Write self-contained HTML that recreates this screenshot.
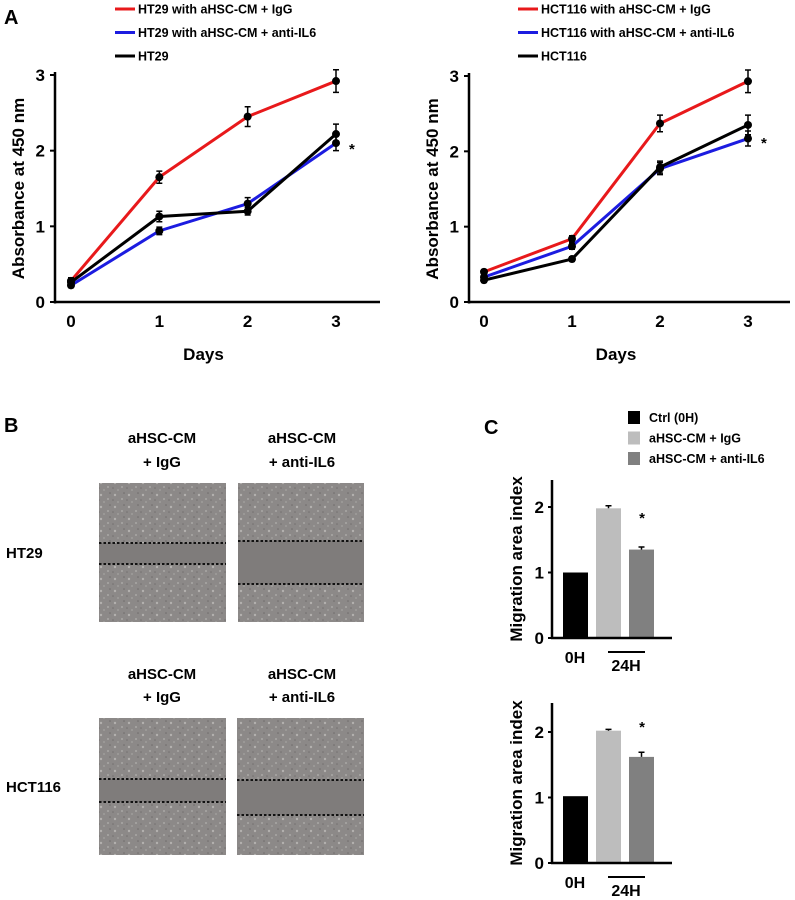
<!DOCTYPE html>
<html><head><meta charset="utf-8"><style>
body{margin:0;background:#fff}
svg{display:block;font-family:"Liberation Sans",Arial,sans-serif;font-weight:bold}
</style></head><body>
<svg id="fig" width="795" height="900" viewBox="0 0 795 900" xmlns="http://www.w3.org/2000/svg">
<defs>
<pattern id="cells" width="14" height="12" patternUnits="userSpaceOnUse">
<rect width="14" height="12" fill="#8c8988"/>
<circle cx="3" cy="3" r="1.2" fill="#b3b0ae"/><circle cx="10" cy="7" r="1" fill="#aaa7a5"/>
<circle cx="6" cy="10" r="0.9" fill="#a5a2a0"/><circle cx="12" cy="1" r="0.8" fill="#6f6c6b"/>
<circle cx="1" cy="8" r="0.8" fill="#737070"/>
</pattern>
</defs>
<g id="static"></g>
</svg>
<script>
const days=[0,1,2,3];
const ht29Igg=[0.28,1.65,2.45,2.92];
const ht29Anti=[0.22,0.94,1.30,2.10];
const ht29Ctrl=[0.26,1.13,1.20,2.22];
const ht29IggErr=[0.04,0.08,0.13,0.15];
const ht29AntiErr=[0.03,0.05,0.08,0.1];
const ht29CtrlErr=[0.03,0.07,0.05,0.13];
const hctIgg=[0.40,0.84,2.37,2.93];
const hctAnti=[0.33,0.74,1.77,2.17];
const hctCtrl=[0.29,0.57,1.79,2.35];
const hctIggErr=[0.03,0.04,0.11,0.15];
const hctAntiErr=[0.03,0.04,0.08,0.1];
const hctCtrlErr=[0.03,0.03,0.08,0.13];
const yTicks=[0,1,2,3];
const barCats=["Ctrl (0H)","aHSC-CM + IgG","aHSC-CM + anti-IL6"];
const migHT29=[1.00,1.98,1.35];
const migHT29Err=[0,0.04,0.04];
const migHCT=[1.02,2.02,1.62];
const migHCTErr=[0,0.02,0.07];
const barTicks=[0,1,2];

const NS="http://www.w3.org/2000/svg";
const svg=document.getElementById('fig');
function mk(tag,attrs,parent,text){const e=document.createElementNS(NS,tag);for(const k in attrs)e.setAttribute(k,attrs[k]);if(text!==undefined)e.textContent=text;(parent||svg).appendChild(e);return e;}

function lineChart(name,ox,x0,x3,xEnd,y0,y3,series,legendX,legendLabels,starY){
  const g=mk('g',{});
  
  
  const X=d=>x0+(x3-x0)*d/3, Y=v=>y0+(y3-y0)*v/3;
  // legend
  const cols=['#e8191b','#1c1ce0','#000'];
  legendLabels.forEach((t,i)=>{
    const yy=9+i*23.5;
    const l=mk('line',{x1:legendX,x2:legendX+20,y1:yy,y2:yy,stroke:cols[i],'stroke-width':3},g);
    
    
    const tx=mk('text',{x:legendX+23,y:yy+4.5,'font-size':12.5},g,t);
    
    
  });
  // axes
  const ya=mk('line',{x1:ox,x2:ox,y1:y3-3,y2:y0+1.5,stroke:'#000','stroke-width':2.5},g);
  
  
  const xa=mk('line',{x1:ox-1,x2:xEnd,y1:y0,y2:y0,stroke:'#000','stroke-width':2.5},g);
  
  
  yTicks.forEach(v=>{
    mk('line',{x1:ox-5,x2:ox,y1:Y(v),y2:Y(v),stroke:'#000','stroke-width':2},g);
    const t=mk('text',{x:ox-10,y:Y(v)+6,'font-size':17,'text-anchor':'end'},g,String(v));
    
    
  });
  days.forEach(d=>{
    const t=mk('text',{x:X(d),y:y0+25,'font-size':17,'text-anchor':'middle'},g,String(d));
    
    
  });
  const xt=mk('text',{x:(x0+x3)/2,y:y0+58,'font-size':17,'text-anchor':'middle'},g,'Days');
  
  
  const cy=(y0+y3)/2;
  const yt=mk('text',{x:0,y:0,'font-size':17,'text-anchor':'middle',transform:`translate(${ox-31},${cy}) rotate(-90)`},g,'Absorbance at 450 nm');
  
  
  series.forEach((s,i)=>{
    const p=mk('polyline',{points:days.map(d=>X(d)+','+Y(s.v[d])).join(' '),fill:'none',stroke:cols[i],'stroke-width':3,'stroke-linejoin':'round'},g);
    
    
    days.forEach(d=>{
      const x=X(d),y=Y(s.v[d]),e=(y0-y3)/3*s.e[d];
      mk('path',{d:`M${x},${y-e}V${y+e}M${x-3},${y-e}H${x+3}M${x-3},${y+e}H${x+3}`,stroke:'#000','stroke-width':1.5,fill:'none'},g);
      const c=mk('circle',{cx:x,cy:y,r:4,fill:'#000'},g);
      
      
    });
  });
  const st=mk('text',{x:X(3)+13,y:starY,'font-size':15},g,'*');
  
  
}
lineChart('ht29-proliferation-chart',55,71,336,380,302,75,
 [{v:ht29Igg,e:ht29IggErr},{v:ht29Anti,e:ht29AntiErr},{v:ht29Ctrl,e:ht29CtrlErr}],
 115,['HT29 with aHSC-CM + IgG','HT29 with aHSC-CM + anti-IL6','HT29'],154);
lineChart('hct116-proliferation-chart',469,484,748,790,302,76,
 [{v:hctIgg,e:hctIggErr},{v:hctAnti,e:hctAntiErr},{v:hctCtrl,e:hctCtrlErr}],
 518,['HCT116 with aHSC-CM + IgG','HCT116 with aHSC-CM + anti-IL6','HCT116'],148);

function label(x,y,size,t,name,anchor){const e=mk('text',{x:x,y:y,'font-size':size,'text-anchor':anchor||'start'},svg,t);return e;}
label(4,24,20,'A','panel-label-a');
label(4,432,20,'B','panel-label-b');
label(484,434,20,'C','panel-label-c');

// Panel B images
function wound(x,y,w,h,l1,l2,name){
  const g=mk('g',{});
  
  
  mk('rect',{x:x,y:y,width:w,height:h,fill:'url(#cells)'},g);
  mk('rect',{x:x,y:l1,width:w,height:l2-l1,fill:'#7f7c7b'},g);
  [l1,l2].forEach(ly=>mk('line',{x1:x,x2:x+w,y1:ly,y2:ly,stroke:'#111','stroke-width':2,'stroke-dasharray':'2.5,2'},g));
}
wound(99,483,127,139,543,564,'ht29-igg-image');
wound(238,483,126,139,541,584,'ht29-anti-il6-image');
wound(99,718,127,137,779,802,'hct116-igg-image');
wound(237,718,127,137,780,815,'hct116-anti-il6-image');
[[443,467],[679,702]].forEach(r=>{
  label(162,r[0],15,'aHSC-CM','column-label','middle');label(162,r[1],15,'+ IgG','column-label','middle');
  label(302,r[0],15,'aHSC-CM','column-label','middle');label(302,r[1],15,'+ anti-IL6','column-label','middle');
});
label(6,558,15,'HT29','row-label');
label(6,792,15,'HCT116','row-label');

// Panel C legend
const barCols=['#000','#bdbdbd','#808080'];
barCats.forEach((c,i)=>{
  const r=mk('rect',{x:628,y:411+i*20.5,width:12,height:13,fill:barCols[i]});
  
  
  label(649,422+i*20.5,12.5,c,'bar-legend-entry');
});
function barChart(name,y0,y2,top,vals,errs,starV){
  const g=mk('g',{});
  
  
  const ox=552,Y=v=>y0-(y0-y2)*v/2;
  const bx=[563,596,629],bw=25;
  vals.forEach((v,i)=>{
    const r=mk('rect',{x:bx[i],y:Y(v),width:bw,height:y0-Y(v),fill:barCols[i]},g);
    
    
    if(errs[i]>0){const e=(y0-y2)/2*errs[i],cx=bx[i]+bw/2;mk('path',{d:`M${cx},${Y(v)}V${Y(v)-e}M${cx-3},${Y(v)-e}H${cx+3}`,stroke:'#000','stroke-width':1.5},g);}
  });
  mk('line',{x1:ox,x2:ox,y1:top,y2:y0,stroke:'#000','stroke-width':2.5},g);
  mk('line',{x1:ox-1,x2:672,y1:y0,y2:y0,stroke:'#000','stroke-width':2.5},g);
  barTicks.forEach(v=>{mk('line',{x1:ox-4,x2:ox,y1:Y(v),y2:Y(v),stroke:'#000','stroke-width':2},g);
    const t=mk('text',{x:ox-8,y:Y(v)+6,'font-size':17,'text-anchor':'end'},g,String(v));});
  const yt=mk('text',{x:0,y:0,'font-size':17,'text-anchor':'middle',transform:`translate(${ox-30},${(y0+top)/2}) rotate(-90)`},g,'Migration area index');
  
  
  const a=mk('text',{x:575,y:y0+25,'font-size':16,'text-anchor':'middle'},g,'0H');
  mk('line',{x1:608,x2:645,y1:y0+14,y2:y0+14,stroke:'#000','stroke-width':2},g);
  const b=mk('text',{x:626,y:y0+33,'font-size':16,'text-anchor':'middle'},g,'24H');
  const s=mk('text',{x:642,y:Y(starV)+6,'font-size':15,'text-anchor':'middle'},g,'*');
}
barChart('ht29-migration-chart',638,507,480,migHT29,migHT29Err,migHT29[2]+0.5);
barChart('hct116-migration-chart',863,732,703,migHCT,migHCTErr,migHCT[2]+0.47);
</script>
</body></html>
